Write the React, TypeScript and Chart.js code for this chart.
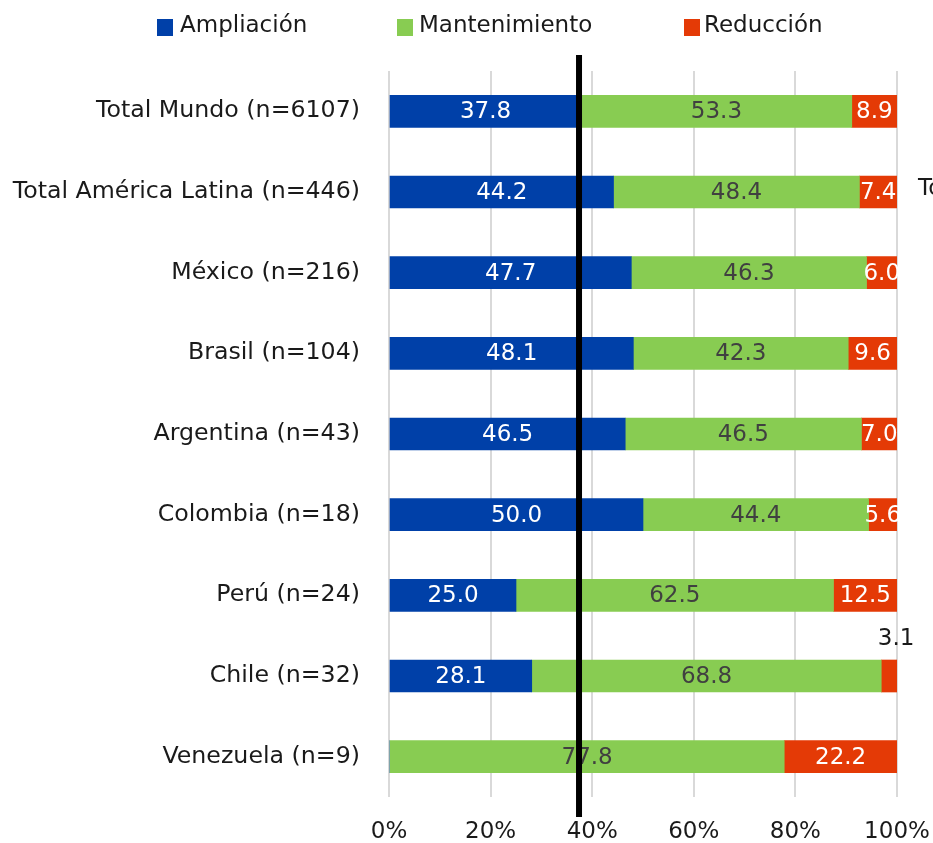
import React, { useEffect, useRef } from "react";
import { Chart, registerables } from "chart.js";

Chart.register(...registerables);

const categories = [
  "Total Mundo (n=6107)",
  "Total América Latina (n=446)",
  "México (n=216)",
  "Brasil (n=104)",
  "Argentina (n=43)",
  "Colombia (n=18)",
  "Perú (n=24)",
  "Chile (n=32)",
  "Venezuela (n=9)",
];
const ampliacion = [37.8, 44.2, 47.7, 48.1, 46.5, 50.0, 25.0, 28.1, 0];
const mantenimiento = [53.3, 48.4, 46.3, 42.3, 46.5, 44.4, 62.5, 68.8, 77.8];
const reduccion = [8.9, 7.4, 6.0, 9.6, 7.0, 5.6, 12.5, 3.1, 22.2];
const seriesNames = ["Ampliación", "Mantenimiento", "Reducción"];
const xTickValues = [0, 20, 40, 60, 80, 100];
const referenceValue = 37.8;
const cutOffNote = "Total Mundo";

const FONT = "'DejaVu Sans', Verdana, sans-serif";
const seriesColors = ["#0040a8", "#88cc52", "#e43a06"];
const labelColors = ["#ffffff", "#404040", "#ffffff"];
const legendSpots = [
  { box: 157, text: 180 },
  { box: 397, text: 419 },
  { box: 684, text: 704 },
];

const overlayPlugin = {
  id: "overlay",
  afterDatasetsDraw(chart: any) {
    const ctx = chart.ctx;
    ctx.save();
    ctx.font = `23px ${FONT}`;
    ctx.textAlign = "center";
    ctx.textBaseline = "middle";
    chart.data.datasets.forEach((ds: any, di: number) => {
      const meta = chart.getDatasetMeta(di);
      meta.data.forEach((bar: any, i: number) => {
        const v = ds.data[i];
        if (!v) return;
        const txt = v.toFixed(1);
        const w = Math.abs(bar.x - bar.base);
        const cx = (bar.x + bar.base) / 2;
        if (w < 20) {
          ctx.fillStyle = "#1a1a1a";
          ctx.fillText(txt, cx + 7, bar.y - 37);
        } else {
          ctx.fillStyle = labelColors[di];
          ctx.fillText(txt, cx, bar.y + 1);
        }
      });
    });
    ctx.restore();
  },
  afterDraw(chart: any) {
    const ctx = chart.ctx;
    const xs = chart.scales.x;
    const ys = chart.scales.y;
    ctx.save();
    // reference line
    const lx = xs.getPixelForValue(referenceValue) - 2;
    ctx.fillStyle = "#000000";
    ctx.fillRect(lx - 3, 55, 6, 762);
    // cut-off note
    ctx.font = `23px ${FONT}`;
    ctx.textAlign = "left";
    ctx.textBaseline = "middle";
    ctx.fillStyle = "#1a1a1a";
    ctx.fillText(cutOffNote, 918, ys.getPixelForValue(1) - 3);
    // legend
    seriesNames.forEach((name, i) => {
      ctx.fillStyle = seriesColors[i];
      ctx.fillRect(legendSpots[i].box, 19, 16, 17);
      ctx.fillStyle = "#1a1a1a";
      ctx.fillText(name, legendSpots[i].text, 26);
    });
    ctx.restore();
  },
};

export default function App() {
  const ref = useRef<HTMLCanvasElement | null>(null);
  useEffect(() => {
    if (!ref.current) return;
    const chart = new Chart(ref.current, {
      type: "bar",
      data: {
        labels: categories,
        datasets: [ampliacion, mantenimiento, reduccion].map((d, i) => ({
          label: seriesNames[i],
          data: d,
          backgroundColor: seriesColors[i],
          borderWidth: 0,
          barThickness: 32,
        })),
      },
      options: {
        indexAxis: "y",
        responsive: false,
        animation: false,
        events: [],
        layout: { padding: { top: 71, right: 36, left: 0, bottom: 0 } },
        plugins: { legend: { display: false }, tooltip: { enabled: false } },
        scales: {
          x: {
            stacked: true,
            min: 0,
            max: 100,
            afterBuildTicks: (s: any) => {
              s.ticks = xTickValues.map((v) => ({ value: v }));
            },
            afterFit: (s: any) => {
              s.height = 46;
              s.paddingLeft = 0;
              s.paddingRight = 0;
            },
            ticks: {
              callback: (v: any) => v + "%",
              color: "#1a1a1a",
              font: { family: FONT, size: 23 },
              padding: 21,
            },
            grid: { color: "#d9d9d9", lineWidth: 2, drawTicks: false },
            border: { display: false },
          },
          y: {
            stacked: true,
            afterFit: (s: any) => {
              s.width = 389;
              s.paddingTop = 0;
              s.paddingBottom = 0;
            },
            ticks: {
              color: "#1a1a1a",
              font: { family: FONT, size: 23.7 },
              padding: 29,
            },
            grid: { display: false, drawTicks: false },
            border: { display: false },
          },
        },
      },
      plugins: [overlayPlugin],
    });
    return () => chart.destroy();
  }, []);
  return (
    <div style={{ position: "absolute", left: 0, top: 0, width: 933, height: 843, background: "#fff" }}>
      <canvas ref={ref} width={933} height={843} />
    </div>
  );
}
